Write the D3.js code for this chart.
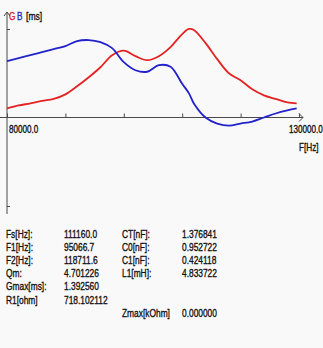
<!DOCTYPE html>
<html>
<head>
<meta charset="utf-8">
<script src="https://cdn.jsdelivr.net/npm/d3@7"></script>
<style>
  html, body { margin: 0; padding: 0; background: #f9f9f9; }
  svg { display: block; }
  text { font-family: "Liberation Sans", Arial, sans-serif; fill: #111; stroke-width: 0.35px; }
</style>
</head>
<body>
<svg id="chart" width="323" height="348"></svg>
<script>
// Admittance sweep: conductance G and susceptance B in mS versus frequency
const freq = [80000, 82000, 84000, 86000, 88000, 90000, 92000, 94000, 96000, 98000,
  100000, 102000, 104000, 106000, 108000, 110000, 111160, 112000, 114000, 116000,
  118000, 120000, 122000, 124000, 126000, 128000, 129600];
const gValues = [0.142, 0.190, 0.222, 0.261, 0.293, 0.364, 0.491, 0.633, 0.791, 0.981,
  1.052, 0.965, 0.902, 0.965, 1.108, 1.313, 1.393, 1.377, 1.171, 0.918,
  0.696, 0.586, 0.443, 0.348, 0.293, 0.237, 0.222];
const bValues = [0.886, 0.934, 0.981, 1.029, 1.076, 1.124, 1.203, 1.219, 1.187, 1.092,
  0.870, 0.744, 0.720, 0.823, 0.799, 0.530, 0.380, 0.222, 0.000, -0.095,
  -0.127, -0.095, -0.063, 0.000, 0.063, 0.111, 0.142];

const xTicks = [80000, 90000, 100000, 110000, 120000, 130000];
const xRangeLabels = ["80000.0", "130000.0"];
const gMax = 1.392560;

// Fitted parameters table, two label/value column pairs
const leftLabels = ["Fs[Hz]:", "F1[Hz]:", "F2[Hz]:", "Qm:", "Gmax[ms]:", "R1[ohm]"];
const leftValues = ["111160.0", "95066.7", "118711.6", "4.701226", "1.392560", "718.102112"];
const rightLabels = ["CT[nF]:", "C0[nF]:", "C1[nF]:", "L1[mH]:", "", "", "Zmax[kOhm]"];
const rightValues = ["1.376841", "0.952722", "0.424118", "4.833722", "", "", "0.000000"];

const svg = d3.select("#chart");
const axisColor = "#4a4a4a";
const red = "#e52222";
const blue = "#2222cc";

const x = d3.scaleLinear().domain([80000, 130000]).range([7, 299]);
const y = d3.scaleLinear().domain([-gMax, gMax]).range([206, 29]);

// condensed text helper
function label(g, px, py, str, size, sx, color) {
  const c = color || "#111";
  return g.append("text")
    .attr("transform", `translate(${px},${py}) scale(${sx},1)`)
    .attr("font-size", size)
    .style("fill", c)
    .style("stroke", c)
    .text(str);
}

// axis lines with arrowheads
const y0 = y(0);
svg.append("line").attr("x1", 0).attr("x2", 303).attr("y1", y0).attr("y2", y0)
  .attr("stroke", axisColor).attr("stroke-width", 1);
svg.append("path").attr("d", `M299,${y0 - 4} L303,${y0} L299,${y0 + 4}`)
  .attr("fill", "none").attr("stroke", axisColor);
svg.append("line").attr("x1", x(80000)).attr("x2", x(80000)).attr("y1", 12).attr("y2", 214)
  .attr("stroke", axisColor).attr("stroke-width", 1);
svg.append("path").attr("d", `M${x(80000) - 3},16 L${x(80000)},12 L${x(80000) + 3},16`)
  .attr("fill", "none").attr("stroke", axisColor);

// x ticks pointing up, unlabeled
const xAxis = d3.axisBottom(x).tickValues(xTicks).tickSize(-4).tickFormat("");
const gx = svg.append("g").attr("transform", `translate(0,${y0})`).call(xAxis);
gx.select(".domain").remove();
gx.selectAll(".tick line").attr("stroke", axisColor);

// y ticks at ±Gmax
const yAxis = d3.axisRight(y).tickValues([gMax, -gMax]).tickSize(3).tickFormat("");
const gy = svg.append("g").attr("transform", `translate(${x(80000)},0)`).call(yAxis);
gy.select(".domain").remove();
gy.selectAll(".tick line").attr("stroke", axisColor);

// curves
const line = d3.line().curve(d3.curveCatmullRom.alpha(0.5));
svg.append("path")
  .attr("d", line(freq.map((f, i) => [x(f), y(gValues[i])])))
  .attr("fill", "none").attr("stroke", red).attr("stroke-width", 1.8);
svg.append("path")
  .attr("d", line(freq.map((f, i) => [x(f), y(bValues[i])])))
  .attr("fill", "none").attr("stroke", blue).attr("stroke-width", 1.8);

// axis captions
label(svg, 9, 20, "G", 10.5, 0.78, red);
label(svg, 17, 20, "B", 10.5, 0.78, blue);
label(svg, 26, 20, "[ms]", 10.5, 0.82, "#111");
label(svg, 9, 133, xRangeLabels[0], 10.5, 0.77);
label(svg, 289, 133, xRangeLabels[1], 10.5, 0.77);
label(svg, 299, 151, "F[Hz]", 10.5, 0.78);

// parameter table
const rowY = i => 238 + i * 13.1;
const fs = 11.5, sx = 0.73;
leftLabels.forEach((t, i) => label(svg, 6, rowY(i), t, fs, sx));
leftValues.forEach((t, i) => label(svg, 64, rowY(i), t, fs, sx));
rightLabels.forEach((t, i) => { if (t) label(svg, 122, rowY(i) + (i === 6 ? 0.5 : 0), t, fs, sx); });
rightValues.forEach((t, i) => { if (t) label(svg, 182, rowY(i) + (i === 6 ? 0.5 : 0), t, fs, sx); });
</script>
</body>
</html>
